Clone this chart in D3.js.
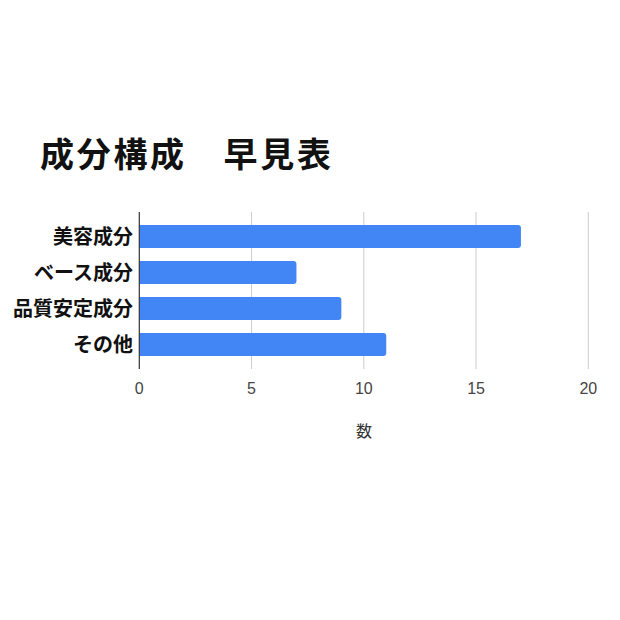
<!DOCTYPE html>
<html><head><meta charset="utf-8">
<script src="https://cdn.jsdelivr.net/npm/d3@7/dist/d3.min.js"></script>
<style>body{margin:0;background:#fff}</style>
</head><body>
<svg id="c" width="620" height="620"></svg>
<script>
const categories = ["美容成分", "ベース成分", "品質安定成分", "その他"];
const values = [17, 7, 9, 11];
const xTicks = [0, 5, 10, 15, 20];
const titleText = "成分構成\u3000早見表";
const xAxisTitle = "数";

const svg = d3.select("#c");
const x = d3.scaleLinear().domain([0, 20]).range([139.3, 588.3]);
const y = d3.scaleBand().domain(categories).range([212, 369]).padding(0.36);

svg.append("text").attr("x", 40).attr("y", 167)
  .attr("font-family", "'Noto Sans CJK JP'").attr("font-weight", "bold")
  .attr("font-size", 34).attr("letter-spacing", 2.7).attr("fill", "#111")
  .text(titleText);

// grid
svg.append("g").selectAll("line").data(xTicks.filter(d => d > 0)).join("line")
  .attr("x1", d => x(d)).attr("x2", d => x(d)).attr("y1", 212).attr("y2", 369)
  .attr("stroke", "#cccccc").attr("stroke-width", 1);

// bars with rounded right corners
const r = 3;
svg.append("g").selectAll("path").data(categories).join("path")
  .attr("fill", "#4285f4")
  .attr("d", (c, i) => {
    const x0 = x(0), x1 = x(values[i]), y0 = y(c), h = y.bandwidth();
    return `M${x0},${y0}H${x1 - r}Q${x1},${y0} ${x1},${y0 + r}V${y0 + h - r}Q${x1},${y0 + h} ${x1 - r},${y0 + h}H${x0}Z`;
  });

// zero axis line
svg.append("line").attr("x1", x(0)).attr("x2", x(0)).attr("y1", 212).attr("y2", 369)
  .attr("stroke", "#333").attr("stroke-width", 1.2);

// category labels
svg.append("g").selectAll("text").data(categories).join("text")
  .attr("x", 133).attr("y", c => y(c) + y.bandwidth() / 2)
  .attr("dy", "0.36em").attr("text-anchor", "end")
  .attr("font-family", "'Noto Sans CJK JP'").attr("font-weight", "bold")
  .attr("font-size", 20).attr("fill", "#111")
  .text(c => c);

// x tick labels
svg.append("g").selectAll("text").data(xTicks).join("text")
  .attr("x", d => x(d)).attr("y", 388).attr("dy", "0.36em")
  .attr("text-anchor", "middle")
  .attr("font-family", "'Liberation Sans', Arial, sans-serif")
  .attr("font-size", 16).attr("fill", "#444")
  .text(d => d);

svg.append("text").attr("x", 364).attr("y", 431).attr("dy", "0.36em")
  .attr("text-anchor", "middle")
  .attr("font-family", "'Noto Sans CJK JP'").attr("font-size", 16).attr("fill", "#333")
  .text(xAxisTitle);
</script>
</body></html>
